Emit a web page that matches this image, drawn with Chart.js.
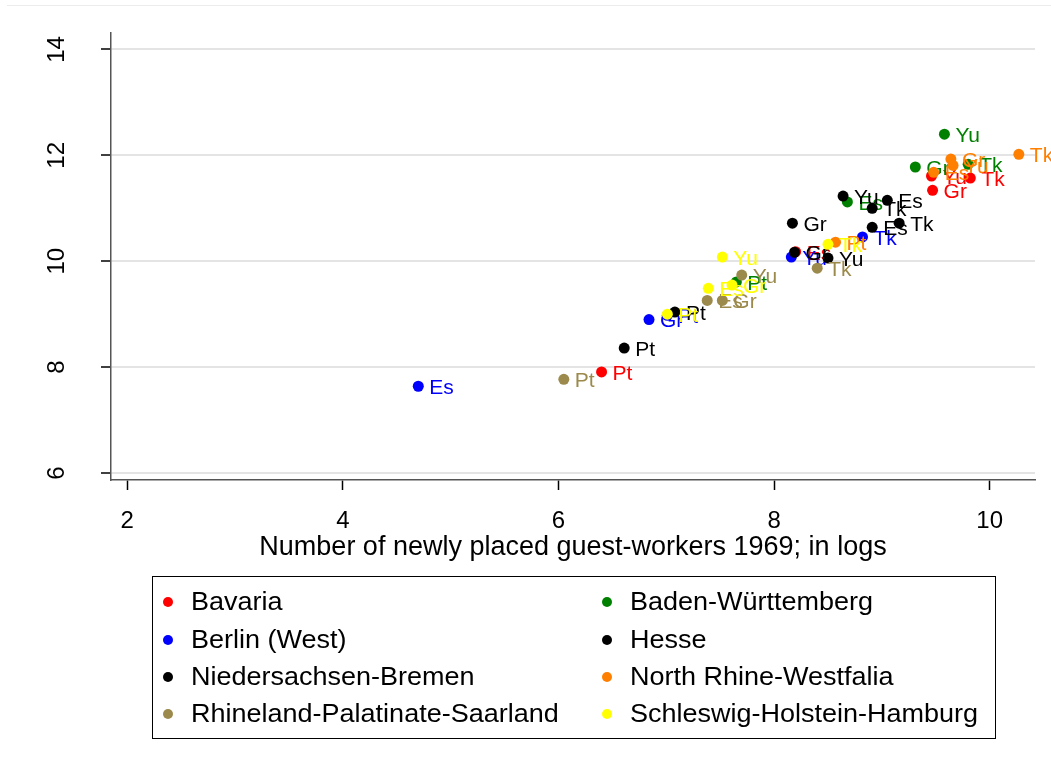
<!DOCTYPE html>
<html>
<head>
<meta charset="utf-8">
<script src="https://cdn.jsdelivr.net/npm/chart.js@4"></script>
<style>
  html, body { margin: 0; padding: 0; background: #fff; }
  #wrap { position: relative; width: 1051px; height: 770px; }
  #topline { position: absolute; left: 7px; right: 0; top: 5px; height: 1px; background: #ececec; }
</style>
</head>
<body>
<div id="wrap">
  <div id="topline"></div>
  <canvas id="chart" width="1051" height="770"></canvas>
</div>
<script>
// --- Data (x: log newly placed guest-workers 1969, y: outcome in logs) ---
const countryCodes = ['Es', 'Gr', 'Pt', 'Tk', 'Yu'];

const bavariaX = [8.20, 9.47, 6.40, 9.82, 9.46];
const bavariaY = [10.18, 11.34, 7.91, 11.57, 11.61];

const badenX = [8.68, 9.31, 7.65, 9.80, 9.58];
const badenY = [11.12, 11.78, 9.61, 11.83, 12.40];

const berlinX = [4.70, 6.84, 7.01, 8.82, 8.16];
const berlinY = [7.64, 8.90, 8.98, 10.46, 10.08];

const hesseX = [9.05, 8.17, 7.08, 9.16, 8.64];
const hesseY = [11.15, 10.72, 9.04, 10.72, 11.23];

const niedersachsenX = [8.91, 8.19, 6.61, 8.91, 8.50];
const niedersachsenY = [10.64, 10.17, 8.36, 11.00, 10.06];

const nrwX = [9.48, 9.64, 8.57, 10.27, 9.66];
const nrwY = [11.68, 11.93, 10.36, 12.02, 11.81];

const rhinelandX = [7.38, 7.52, 6.05, 8.40, 7.70];
const rhinelandY = [9.26, 9.26, 7.77, 9.87, 9.74];

const schleswigX = [7.39, 7.61, 7.01, 8.50, 7.52];
const schleswigY = [9.49, 9.55, 9.00, 10.32, 10.08];

const xTicks = [2, 4, 6, 8, 10];
const yTicks = [6, 8, 10, 12, 14];

const FONT = "'Liberation Sans', Arial, sans-serif";

const toPoints = (xs, ys) => xs.map((x, i) => ({ x: x, y: ys[i] }));

const regions = [
    { label: 'Bavaria', xs: bavariaX, ys: bavariaY, color: '#ff0000' },
    { label: 'Baden-Württemberg', xs: badenX, ys: badenY, color: '#008000' },
    { label: 'Berlin (West)', xs: berlinX, ys: berlinY, color: '#0000ff' },
    { label: 'Hesse', xs: hesseX, ys: hesseY, color: '#000000' },
    { label: 'Niedersachsen-Bremen', xs: niedersachsenX, ys: niedersachsenY, color: '#000000' },
    { label: 'North Rhine-Westfalia', xs: nrwX, ys: nrwY, color: '#ff7f00' },
    { label: 'Rhineland-Palatinate-Saarland', xs: rhinelandX, ys: rhinelandY, color: '#9c8a4c' },
    { label: 'Schleswig-Holstein-Hamburg', xs: schleswigX, ys: schleswigY, color: '#ffff00' }
];

// --- Plugins ---

// marker labels (country codes) drawn right after each dataset's points
const pointLabels = {
    id: 'pointLabels',
    afterDatasetDraw(chart, args) {
        const ds = chart.data.datasets[args.index];
        const ctx = chart.ctx;
        ctx.save();
        ctx.font = '21px ' + FONT;
        ctx.fillStyle = ds.backgroundColor;
        ctx.textAlign = 'left';
        ctx.textBaseline = 'middle';
        args.meta.data.forEach((el, i) => {
            ctx.fillText(countryCodes[i], el.x + 11, el.y + 2);
        });
        ctx.restore();
    }
};

// boxed two-column legend under the plot
const boxLegend = {
    id: 'boxLegend',
    afterDraw(chart) {
        const ctx = chart.ctx;
        const box = { left: 152, top: 576, right: 995, bottom: 738 };
        const colX = [168, 607];
        const rowY = [602, 640, 677, 714];
        ctx.save();
        ctx.strokeStyle = '#000';
        ctx.lineWidth = 1;
        ctx.strokeRect(box.left + 0.5, box.top + 0.5, box.right - box.left, box.bottom - box.top);
        ctx.font = '25px ' + FONT;
        ctx.textBaseline = 'middle';
        chart.data.datasets.forEach((ds, i) => {
            const cx = colX[i % 2];
            const cy = rowY[Math.floor(i / 2)];
            ctx.fillStyle = ds.backgroundColor;
            ctx.beginPath();
            ctx.arc(cx, cy, 5, 0, Math.PI * 2);
            ctx.fill();
            // the original text is a little wider than Arial
            ctx.save();
            ctx.translate(cx + 23, cy + 1);
            ctx.scale(1.08, 1);
            ctx.fillStyle = '#000';
            ctx.fillText(ds.label, 0, 0);
            ctx.restore();
        });
        ctx.restore();
    }
};

// --- Chart ---
const ctx = document.getElementById('chart').getContext('2d');
const chart = new Chart(ctx, {
    type: 'scatter',
    data: {
        datasets: regions.map((r, i) => ({
            label: r.label,
            data: toPoints(r.xs, r.ys),
            backgroundColor: r.color,
            borderColor: r.color,
            borderWidth: 0,
            pointRadius: 5.5,
            pointHoverRadius: 5.5,
            order: regions.length - i
        }))
    },
    options: {
        responsive: false,
        animation: false,
        layout: { padding: { top: 33, right: 16, bottom: 206, left: 0 } },
        plugins: {
            legend: { display: false },
            tooltip: { enabled: false }
        },
        scales: {
            x: {
                type: 'linear',
                min: 1.85,
                max: 10.42,
                afterBuildTicks: (scale) => { scale.ticks = xTicks.map(v => ({ value: v })); },
                afterFit: (scale) => { scale.height = 84; },
                grid: {
                    display: true,
                    drawOnChartArea: false,
                    tickLength: 10,
                    tickColor: '#000',
                    tickWidth: 1.5
                },
                border: { color: '#555', width: 1.5 },
                ticks: {
                    color: '#000',
                    font: { family: FONT, size: 24 },
                    padding: 17,
                    maxRotation: 0
                },
                title: {
                    display: true,
                    text: 'Number of newly placed guest-workers 1969; in logs',
                    color: '#000',
                    font: { family: FONT, size: 27 },
                    padding: { top: 0, bottom: 0 }
                }
            },
            y: {
                type: 'linear',
                min: 5.87,
                max: 14.31,
                afterBuildTicks: (scale) => { scale.ticks = yTicks.map(v => ({ value: v })); },
                afterFit: (scale) => {
                    scale.width = 111;
                    // rotated labels should not push the plot area down
                    scale.paddingTop = 0;
                    scale.paddingBottom = 0;
                },
                grid: {
                    color: '#e4e4e4',
                    lineWidth: 2,
                    tickLength: 10,
                    tickColor: '#000',
                    tickWidth: 1.5
                },
                border: { color: '#555', width: 1.5 },
                ticks: {
                    color: '#000',
                    font: { family: FONT, size: 24 },
                    minRotation: 90,
                    maxRotation: 90,
                    crossAlign: 'center',
                    padding: 30
                }
            }
        }
    },
    plugins: [pointLabels, boxLegend]
});
</script>
</body>
</html>
